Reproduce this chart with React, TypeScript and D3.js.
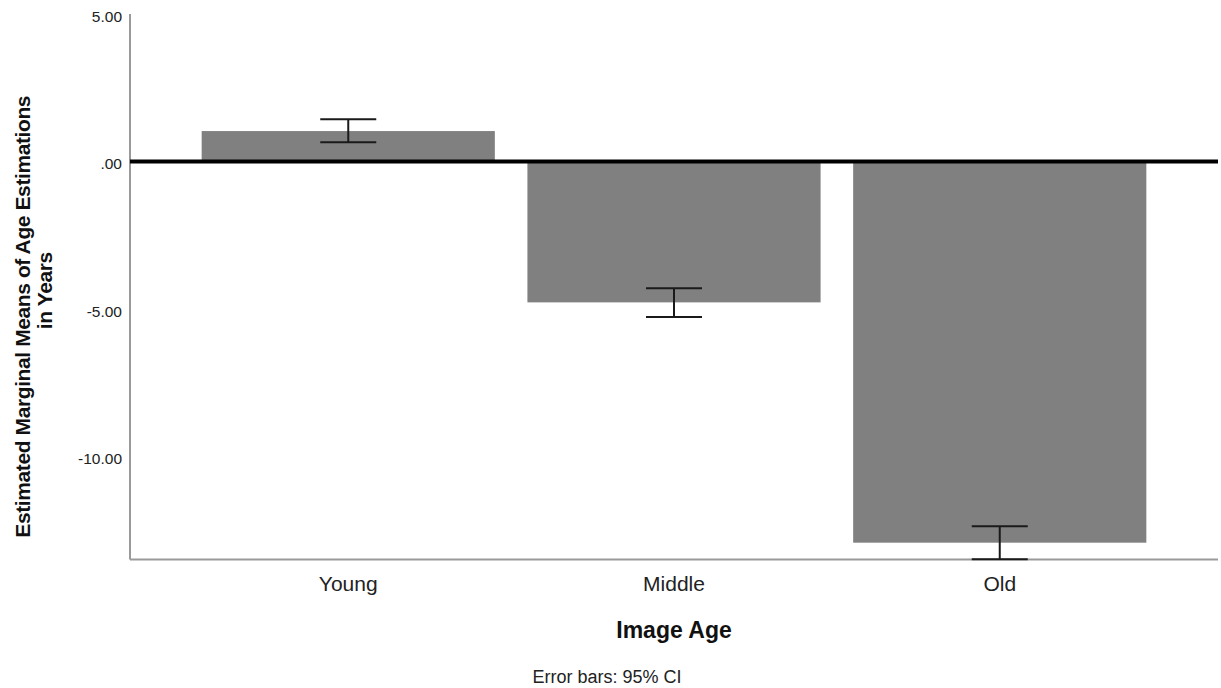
import React from "react";
import * as d3 from "d3";

// Estimated marginal means by image age, with 95% confidence intervals
const categories = ["Young", "Middle", "Old"];
const means = [1.03, -4.78, -12.93];
const ciLower = [0.65, -5.28, -13.49];
const ciUpper = [1.43, -4.3, -12.37];
const yTicks = [5, 0, -5, -10];

const W = 1221;
const H = 688;
const left = 130;
const right = 1218;
const top = 14;
const bottom = 559.5;

const FONT = "'Liberation Sans', Arial, sans-serif";

const fmt = (v: number) => {
  const s = Math.abs(v).toFixed(2).replace(/^0\./, ".");
  return v < 0 ? "-" + s : s;
};

export default function App() {
  const x = d3
    .scaleBand<string>()
    .domain(categories)
    .range([left, right])
    .paddingInner(0.1)
    .paddingOuter(0.22);
  const y = d3.scaleLinear().domain([-13.5, 5]).range([bottom, top]);
  const bw = x.bandwidth();
  const capW = 56;

  return (
    <svg
      width={W}
      height={H}
      style={{ position: "absolute", left: 0, top: 0, background: "#fff" }}
      fontFamily={FONT}
    >
      {/* bars */}
      {categories.map((c, i) => {
        const y0 = y(0);
        const y1 = y(means[i]);
        return (
          <rect
            key={c}
            x={x(c)}
            y={Math.min(y0, y1)}
            width={bw}
            height={Math.abs(y1 - y0)}
            fill="#808080"
          />
        );
      })}

      {/* axes */}
      <line x1={left} x2={left} y1={top} y2={bottom} stroke="#9a9a9a" strokeWidth={2} />
      <line x1={left} x2={right} y1={bottom} y2={bottom} stroke="#9a9a9a" strokeWidth={2} />

      {/* reference line at zero */}
      <line x1={left} x2={right} y1={y(0)} y2={y(0)} stroke="#000" strokeWidth={4} />

      {/* error bars */}
      {categories.map((c, i) => {
        const cx = (x(c) as number) + bw / 2;
        const yl = y(ciLower[i]);
        const yu = y(ciUpper[i]);
        return (
          <g key={c} stroke="#1a1a1a" strokeWidth={2}>
            <line x1={cx} x2={cx} y1={yu} y2={yl} />
            <line x1={cx - capW / 2} x2={cx + capW / 2} y1={yu} y2={yu} />
            <line x1={cx - capW / 2} x2={cx + capW / 2} y1={yl} y2={yl} />
          </g>
        );
      })}

      {/* y tick labels */}
      {yTicks.map((t) => (
        <text
          key={t}
          x={122}
          y={y(t)}
          dy="0.5em"
          textAnchor="end"
          fontSize={15.5}
          fill="#222"
        >
          {fmt(t)}
        </text>
      ))}

      {/* category labels */}
      {categories.map((c) => (
        <text
          key={c}
          x={(x(c) as number) + bw / 2}
          y={590.5}
          textAnchor="middle"
          fontSize={21}
          fill="#222"
        >
          {c}
        </text>
      ))}

      {/* axis titles */}
      <text
        x={(left + right) / 2}
        y={638}
        textAnchor="middle"
        fontSize={23}
        fontWeight="bold"
        fill="#111"
      >
        Image Age
      </text>
      <g transform={`translate(0, ${(top + bottom) / 2 + 30}) rotate(-90)`}>
        <text
          x={0}
          y={30}
          textAnchor="middle"
          fontSize={21}
          fontWeight="bold"
          letterSpacing={-0.4}
          fill="#111"
        >
          Estimated Marginal Means of Age Estimations
        </text>
        <text
          x={26}
          y={52}
          textAnchor="middle"
          fontSize={21}
          fontWeight="bold"
          letterSpacing={-0.4}
          fill="#111"
        >
          in Years
        </text>
      </g>

      <text x={607} y={683} textAnchor="middle" fontSize={18} fill="#222">
        Error bars: 95% CI
      </text>
    </svg>
  );
}
